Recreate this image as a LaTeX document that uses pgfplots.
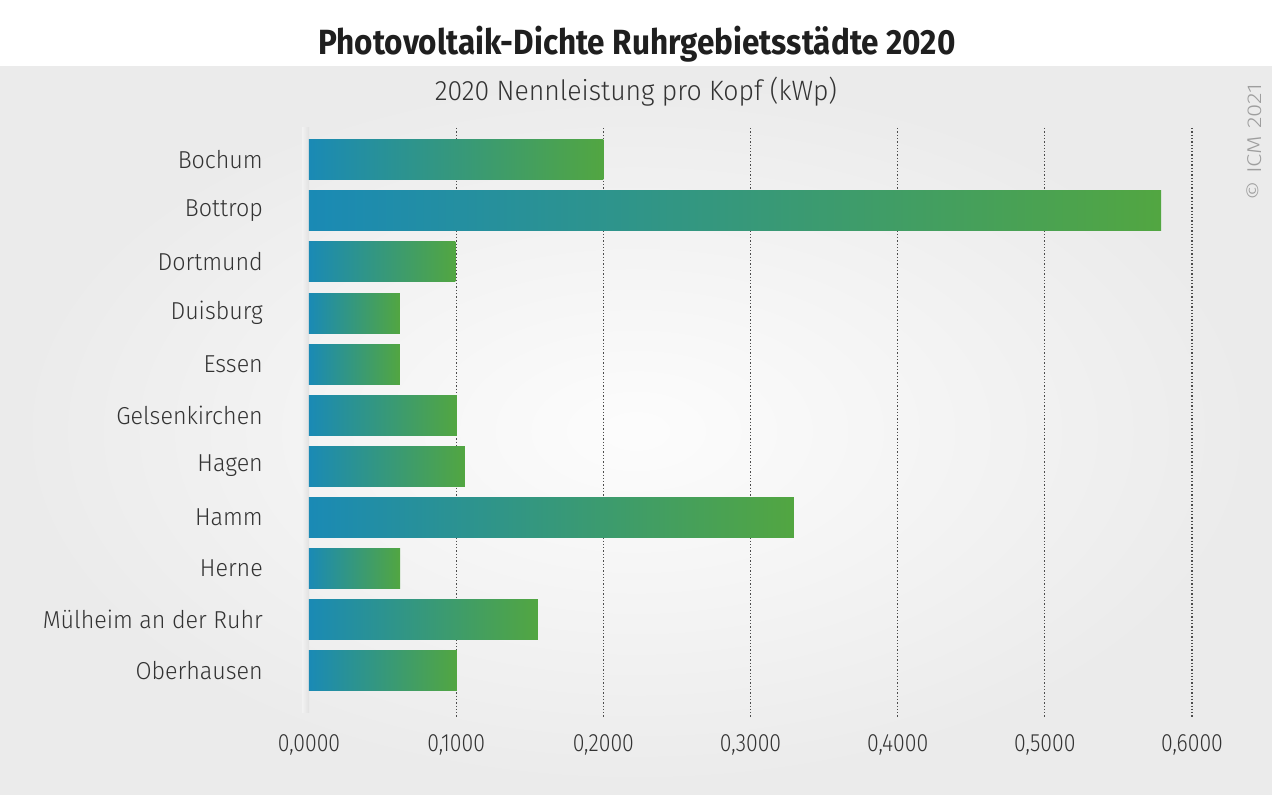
\documentclass[border=0pt]{standalone}
\usepackage{pgfplots}
\pgfplotsset{compat=1.18}
\usepackage{fontspec}
\setmainfont{Fira Sans}
\newfontfamily\titlefont[FakeStretch=0.9]{Fira Sans}
\newfontfamily\lightfont[FakeStretch=0.95]{Fira Sans Light}
\newfontfamily\tickfont[FakeStretch=0.85]{Fira Sans Light}
\newfontfamily\copyfont[FakeStretch=1.2]{Fira Sans Light}
\definecolor{barblue}{HTML}{1A8AB5}
\definecolor{bargreen}{HTML}{52A641}
\definecolor{txt}{HTML}{333333}
\begin{document}
\begin{tikzpicture}[x=1pt,y=1pt]
\fill[white] (0,0) rectangle (1272,795);
\shade[inner color=white!99!black, outer color=white!92!black] (0,0) rectangle (1272,728);
\node[anchor=base, inner sep=0pt, font=\titlefont\bfseries\fontsize{35}{42}\selectfont, text=black!88] at (637,740) {Photovoltaik-Dichte Ruhrgebietsstädte 2020};
\node[anchor=base, inner sep=0pt, font=\lightfont\fontsize{28}{33}\selectfont, text=txt] at (636,694) {2020 Nennleistung pro Kopf (kWp)};
\node[rotate=90, inner sep=0pt, font=\copyfont\fontsize{20}{24}\selectfont, text=black!38] at (1254,653) {© ICM 2021};
\shade[left color=white!95!black, right color=black!12] (302,82) rectangle (309,667);
\begin{axis}[
  at={(309pt,77pt)}, anchor=south west,
  scale only axis, width=883pt, height=590pt,
  xmin=0, xmax=0.6, ymin=-0.627, ymax=10.94, y dir=reverse,
  xbar, bar width=40pt,
  axis line style={draw=none}, major tick length=0pt, tick style={draw=none},
  ytick={0,1,2,3,4,5,6,7,8,9,10},
  yticklabels={Bochum,Bottrop,Dortmund,Duisburg,Essen,Gelsenkirchen,Hagen,Hamm,Herne,M\"ulheim an der Ruhr,Oberhausen},
  xtick={0,0.1,0.2,0.3,0.4,0.5,0.6},
  scaled x ticks=false,
  /pgf/number format/fixed,
  /pgf/number format/fixed zerofill,
  /pgf/number format/precision=4,
  /pgf/number format/use comma,
  /pgf/number format/assume math mode=true,
  extra x ticks={0.1,0.2,0.3,0.4,0.5,0.6},
  extra x tick labels={},
  extra x tick style={grid=major},
  grid style={dash pattern=on 1.3pt off 2pt, black!70, line width=1.3pt},
  yticklabel style={anchor=east, inner sep=0pt, xshift=-46pt, font=\lightfont\fontsize{24.5}{29}\selectfont, text=txt},
  xticklabel style={anchor=north, inner sep=0pt, yshift=-16pt, font=\tickfont\fontsize{25}{30}\selectfont, text=txt},
  every axis plot/.append style={draw=none, bar shift=0pt, left color=barblue, right color=bargreen},
]
\addplot coordinates {(0.200,0)};
\addplot coordinates {(0.579,1)};
\addplot coordinates {(0.0995,2)};
\addplot coordinates {(0.0618,3)};
\addplot coordinates {(0.0618,4)};
\addplot coordinates {(0.1005,5)};
\addplot coordinates {(0.106,6)};
\addplot coordinates {(0.3295,7)};
\addplot coordinates {(0.062,8)};
\addplot coordinates {(0.1556,9)};
\addplot coordinates {(0.1005,10)};
\end{axis}
\end{tikzpicture}
\end{document}
